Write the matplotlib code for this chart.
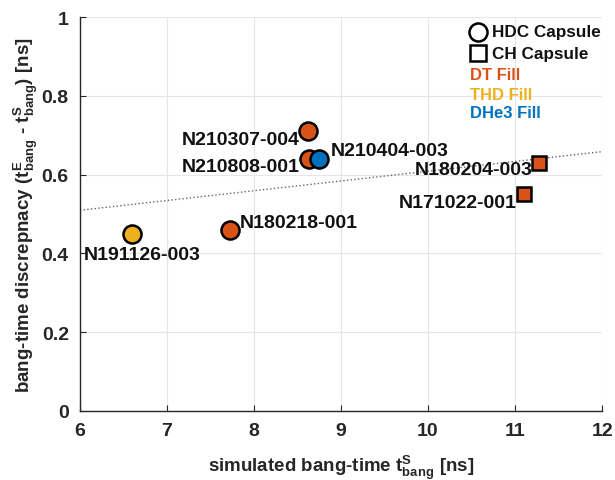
import matplotlib
matplotlib.use('Agg')
import matplotlib.pyplot as plt
import numpy as np

plt.rcParams['font.family'] = ['Liberation Sans', 'DejaVu Sans']
plt.rcParams['mathtext.default'] = 'regular'

# data
shots = ['N191126-003', 'N180218-001', 'N210307-004', 'N210808-001',
         'N210404-003', 'N180204-003', 'N171022-001']
t_sim = [6.6, 7.73, 8.62, 8.63, 8.75, 11.28, 11.1]
dt = [0.45, 0.46, 0.71, 0.64, 0.64, 0.63, 0.55]
fill = ['THD', 'DT', 'DT', 'DT', 'DHe3', 'DT', 'DT']
capsule = ['HDC', 'HDC', 'HDC', 'HDC', 'HDC', 'CH', 'CH']
# label offsets in pixels and alignment
lab_off = [(10, -21, 'center'), (9, 7, 'left'), (-8, -8, 'right'), (-9, -8, 'right'),
           (11, 8, 'left'), (-7, -7, 'right'), (-7, -8, 'right')]

fill_colors = {'DT': '#D95319', 'THD': '#EDB120', 'DHe3': '#0072BD'}
cap_markers = {'HDC': 'o', 'CH': 's'}
cap_sizes = {'HDC': 13, 'CH': 10}

fig = plt.figure(figsize=(6.15, 4.81), dpi=100)
ax = fig.add_axes([0.130, 0.1435, 0.849, 0.819])

# linear fit
p = np.polyfit(t_sim, dt, 1)
xf = np.array([6, 12])
ax.plot(xf, np.polyval(p, xf), ':', color='#666666', lw=1.0, zorder=1)

for i in range(len(shots)):
    ax.plot(t_sim[i], dt[i], cap_markers[capsule[i]], ms=cap_sizes[capsule[i]],
            mfc=fill_colors[fill[i]], mec='black', mew=1.8, zorder=3)
    dx, dy, ha = lab_off[i]
    ax.annotate(shots[i], (t_sim[i], dt[i]), xytext=(dx, dy), textcoords='offset pixels',
                ha=ha, va='center', fontsize=14, fontweight='bold', color='#111111')

ax.set_xlim(6, 12)
ax.set_ylim(0, 1)
ax.set_xticks(range(6, 13))
ax.set_yticks([0, 0.2, 0.4, 0.6, 0.8, 1])
ax.set_yticklabels(['0', '0.2', '0.4', '0.6', '0.8', '1'])
ax.grid(True, color='#e6e6e6', lw=0.8)
ax.set_axisbelow(True)
for s in ['top', 'right']:
    ax.spines[s].set_visible(False)
for s in ['left', 'bottom']:
    ax.spines[s].set_color('#262626')
    ax.spines[s].set_linewidth(1.0)
ax.tick_params(direction='in', length=4, labelsize=14, colors='#262626', pad=8)
for lbl in ax.get_xticklabels() + ax.get_yticklabels():
    lbl.set_fontweight('bold')

ax.set_xlabel('simulated bang-time t$^{S}_{bang}$ [ns]', fontsize=13.5, fontweight='bold',
              color='#262626', labelpad=10)
ax.set_ylabel('bang-time discrepnacy (t$^{E}_{bang}$ - t$^{S}_{bang}$) [ns]', fontsize=13.5,
              fontweight='bold', color='#262626', labelpad=1)

# custom legend in the top right
def px(x, y):
    return x / 615, 1 - y / 481

fig.lines.append(plt.Line2D(*zip(px(478, 33)), marker='o', ms=13, mfc='white', mec='black',
                            mew=1.8, transform=fig.transFigure, ls=''))
fig.lines.append(plt.Line2D(*zip(px(478, 54)), marker='s', ms=11, mfc='white', mec='black',
                            mew=1.8, transform=fig.transFigure, ls=''))
fig.text(*px(492, 33), 'HDC Capsule', fontsize=12.3, fontweight='bold', va='center', color='#111111')
fig.text(*px(492, 54), 'CH Capsule', fontsize=12.3, fontweight='bold', va='center', color='#111111')
fig.text(*px(470, 75), 'DT Fill', fontsize=12, fontweight='bold', va='center', color=fill_colors['DT'])
fig.text(*px(470, 95), 'THD Fill', fontsize=12, fontweight='bold', va='center', color=fill_colors['THD'])
fig.text(*px(470, 114), 'DHe3 Fill', fontsize=12, fontweight='bold', va='center', color=fill_colors['DHe3'])

plt.savefig('out.png', dpi=100)
